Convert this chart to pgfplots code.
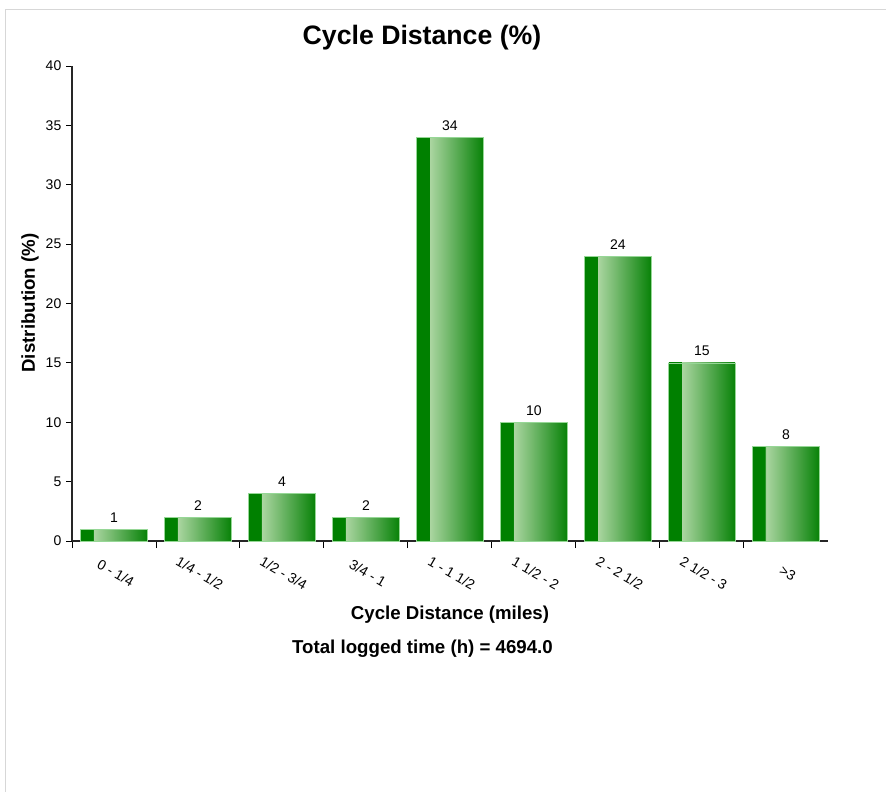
\documentclass[border=0pt]{standalone}
\usepackage{fontspec}
\setmainfont{Liberation Sans}
\usepackage{pgfplots}
\pgfplotsset{compat=1.18}
\definecolor{dg}{RGB}{0,128,0}
\definecolor{lg}{RGB}{172,214,162}
\definecolor{dgr}{RGB}{8,130,8}
\definecolor{edge}{RGB}{150,215,150}
\definecolor{framegray}{RGB}{215,215,215}
\pgfdeclarehorizontalshading{barshade}{100bp}{color(0bp)=(dg); color(25bp)=(dg); color(34.3bp)=(dg); color(34.6bp)=(lg); color(75bp)=(dgr); color(100bp)=(dgr)}
\pgfplotsset{greenbar/.style={shading=barshade, draw=edge, line width=0.5pt, bar shift=0pt}}
\begin{document}
\begin{tikzpicture}
\path[use as bounding box] (0,0) rectangle (664.5pt,-594pt);
\draw[framegray, line width=0.75pt] (3.75pt,-594pt) -- (3.75pt,-7.5pt) -- (664.5pt,-7.5pt);
\begin{axis}[
  at={(54pt,-405.75pt)}, anchor=south west,
  scale only axis, width=567pt, height=356.25pt,
  xmin=-0.5, xmax=8.5, ymin=0, ymax=40,
  axis x line*=bottom, axis y line*=left,
  axis line style={black!85, line width=1.1pt},
  ybar, bar width=0.79,
  xtick={0,...,8},
  xticklabels={0 - 1/4, 1/4 - 1/2, 1/2 - 3/4, 3/4 - 1, 1 - 1 1/2, 1 1/2 - 2, 2 - 2 1/2, 2 1/2 - 3, >3},
  minor xtick={-0.5,0.5,...,7.5},
  major x tick style={draw=none},
  ytick={0,5,...,40},
  tick align=outside,
  major tick length=4.5pt, minor tick length=5.25pt,
  tick style={black, line width=0.75pt},
  xticklabel style={rotate=-30, anchor=center, xshift=1.5pt, font=\fontsize{10.5}{12}\selectfont},
  xticklabel shift=19pt,
  yticklabel style={font=\fontsize{10.5}{12}\selectfont},
  /pgf/number format/assume math mode=true,
  nodes near coords,
  nodes near coords style={font=\fontsize{10.5}{12}\selectfont, black, yshift=1.5pt},
  title={Cycle Distance (\%)},
  title style={font=\bfseries\fontsize{20}{24}\selectfont, at={(axis description cs:0.463,1.042)}, anchor=center},
  xlabel={Cycle Distance (miles)},
  xlabel style={font=\bfseries\fontsize{14}{16}\selectfont, at={(axis description cs:0.5,-0.1558)}, anchor=center},
  ylabel={Distribution (\%)},
  ylabel style={font=\bfseries\fontsize{14}{16}\selectfont, at={(axis description cs:-0.0556,0.501)}, anchor=center},
  clip=false,
]
\addplot[greenbar] coordinates {(0,1)};
\addplot[greenbar] coordinates {(1,2)};
\addplot[greenbar] coordinates {(2,4)};
\addplot[greenbar] coordinates {(3,2)};
\addplot[greenbar] coordinates {(4,34)};
\addplot[greenbar] coordinates {(5,10)};
\addplot[greenbar] coordinates {(6,24)};
\addplot[greenbar] coordinates {(7,15)};
\addplot[greenbar] coordinates {(8,8)};
\node[font=\bfseries\fontsize{14}{16}\selectfont, anchor=center] at (axis description cs:0.4636,-0.2274) {Total logged time (h) = 4694.0};
\end{axis}
\end{tikzpicture}
\end{document}
